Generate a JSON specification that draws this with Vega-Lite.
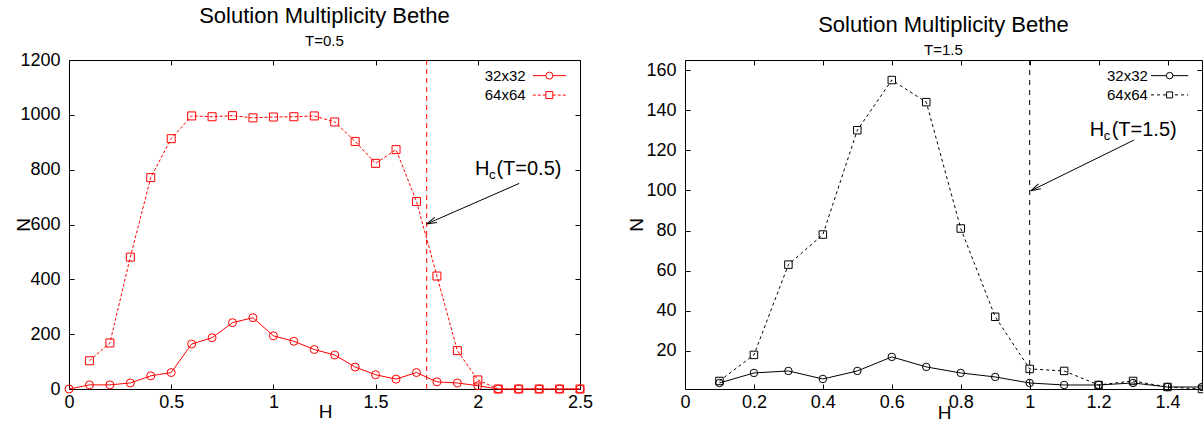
{
  "$schema": "https://vega.github.io/schema/vega-lite/v6.json",
  "padding": {"left": 13, "top": 4, "right": 0, "bottom": 0},
  "spacing": 32,
  "datasets": {
    "left": [
      {"H": 0.0, "N": 0, "size": "32x32"},
      {"H": 0.1, "N": 15, "size": "32x32"},
      {"H": 0.2, "N": 15, "size": "32x32"},
      {"H": 0.3, "N": 22, "size": "32x32"},
      {"H": 0.4, "N": 48, "size": "32x32"},
      {"H": 0.5, "N": 60, "size": "32x32"},
      {"H": 0.6, "N": 164, "size": "32x32"},
      {"H": 0.7, "N": 187, "size": "32x32"},
      {"H": 0.8, "N": 242, "size": "32x32"},
      {"H": 0.9, "N": 260, "size": "32x32"},
      {"H": 1.0, "N": 194, "size": "32x32"},
      {"H": 1.1, "N": 174, "size": "32x32"},
      {"H": 1.2, "N": 144, "size": "32x32"},
      {"H": 1.3, "N": 124, "size": "32x32"},
      {"H": 1.4, "N": 80, "size": "32x32"},
      {"H": 1.5, "N": 52, "size": "32x32"},
      {"H": 1.6, "N": 36, "size": "32x32"},
      {"H": 1.7, "N": 60, "size": "32x32"},
      {"H": 1.8, "N": 26, "size": "32x32"},
      {"H": 1.9, "N": 22, "size": "32x32"},
      {"H": 2.0, "N": 12, "size": "32x32"},
      {"H": 2.1, "N": 0, "size": "32x32"},
      {"H": 2.2, "N": 0, "size": "32x32"},
      {"H": 2.3, "N": 0, "size": "32x32"},
      {"H": 2.4, "N": 0, "size": "32x32"},
      {"H": 2.5, "N": 0, "size": "32x32"},
      {"H": 0.1, "N": 103, "size": "64x64"},
      {"H": 0.2, "N": 168, "size": "64x64"},
      {"H": 0.3, "N": 481, "size": "64x64"},
      {"H": 0.4, "N": 771, "size": "64x64"},
      {"H": 0.5, "N": 913, "size": "64x64"},
      {"H": 0.6, "N": 996, "size": "64x64"},
      {"H": 0.7, "N": 993, "size": "64x64"},
      {"H": 0.8, "N": 997, "size": "64x64"},
      {"H": 0.9, "N": 989, "size": "64x64"},
      {"H": 1.0, "N": 992, "size": "64x64"},
      {"H": 1.1, "N": 993, "size": "64x64"},
      {"H": 1.2, "N": 996, "size": "64x64"},
      {"H": 1.3, "N": 974, "size": "64x64"},
      {"H": 1.4, "N": 903, "size": "64x64"},
      {"H": 1.5, "N": 823, "size": "64x64"},
      {"H": 1.6, "N": 873, "size": "64x64"},
      {"H": 1.7, "N": 684, "size": "64x64"},
      {"H": 1.8, "N": 412, "size": "64x64"},
      {"H": 1.9, "N": 140, "size": "64x64"},
      {"H": 2.0, "N": 33, "size": "64x64"},
      {"H": 2.1, "N": 0, "size": "64x64"},
      {"H": 2.2, "N": 0, "size": "64x64"},
      {"H": 2.3, "N": 0, "size": "64x64"},
      {"H": 2.4, "N": 0, "size": "64x64"},
      {"H": 2.5, "N": 0, "size": "64x64"}
    ],
    "right": [
      {"H": 0.1, "N": 4, "size": "32x32"},
      {"H": 0.2, "N": 9, "size": "32x32"},
      {"H": 0.3, "N": 10, "size": "32x32"},
      {"H": 0.4, "N": 6, "size": "32x32"},
      {"H": 0.5, "N": 10, "size": "32x32"},
      {"H": 0.6, "N": 17, "size": "32x32"},
      {"H": 0.7, "N": 12, "size": "32x32"},
      {"H": 0.8, "N": 9, "size": "32x32"},
      {"H": 0.9, "N": 7, "size": "32x32"},
      {"H": 1.0, "N": 4, "size": "32x32"},
      {"H": 1.1, "N": 3, "size": "32x32"},
      {"H": 1.2, "N": 3, "size": "32x32"},
      {"H": 1.3, "N": 4, "size": "32x32"},
      {"H": 1.4, "N": 2, "size": "32x32"},
      {"H": 1.5, "N": 2, "size": "32x32"},
      {"H": 0.1, "N": 5, "size": "64x64"},
      {"H": 0.2, "N": 18, "size": "64x64"},
      {"H": 0.3, "N": 63, "size": "64x64"},
      {"H": 0.4, "N": 78, "size": "64x64"},
      {"H": 0.5, "N": 130, "size": "64x64"},
      {"H": 0.6, "N": 155, "size": "64x64"},
      {"H": 0.7, "N": 144, "size": "64x64"},
      {"H": 0.8, "N": 81, "size": "64x64"},
      {"H": 0.9, "N": 37, "size": "64x64"},
      {"H": 1.0, "N": 11, "size": "64x64"},
      {"H": 1.1, "N": 10, "size": "64x64"},
      {"H": 1.2, "N": 3, "size": "64x64"},
      {"H": 1.3, "N": 5, "size": "64x64"},
      {"H": 1.4, "N": 2, "size": "64x64"},
      {"H": 1.5, "N": 1, "size": "64x64"}
    ]
  },
  "hconcat": [
    {
      "width": 511,
      "height": 329,
      "title": {"text": "Solution Multiplicity Bethe", "subtitle": "T=0.5"},
      "data": {"name": "left"},
      "layer": [
        {
          "layer": [
            {
              "data": {"values": [{}]},
              "mark": {"type": "rule", "color": "red", "strokeDash": [5, 4], "strokeWidth": 1},
              "encoding": {"x": {"datum": 1.75, "type": "quantitative"}}
            },
            {
              "transform": [{"filter": {"field": "size", "equal": "32x32"}}],
              "mark": {"type": "line", "color": "red", "strokeWidth": 1},
              "encoding": {
                "x": {"field": "H", "type": "quantitative", "scale": {"domain": [0, 2.5], "nice": false, "zero": false},
                      "axis": {"values": [0, 0.5, 1, 1.5, 2, 2.5], "format": "~g", "title": "H", "titleX": 256, "titleY": 22, "ticks": false, "tickSize": 0}},
                "y": {"field": "N", "type": "quantitative", "scale": {"domain": [0, 1200], "nice": false},
                      "axis": {"values": [0, 200, 400, 600, 800, 1000, 1200], "format": "d", "title": "N", "titleX": -46, "ticks": false, "tickSize": 0}}
              }
            },
            {
              "transform": [{"filter": {"field": "size", "equal": "64x64"}}],
              "mark": {"type": "line", "color": "red", "strokeWidth": 1, "strokeDash": [3, 2]},
              "encoding": {
                "x": {"field": "H", "type": "quantitative"},
                "y": {"field": "N", "type": "quantitative"}
              }
            },
            {
              "mark": {"type": "point", "color": "red", "filled": false, "size": 64, "strokeWidth": 1, "opacity": 1},
              "encoding": {
                "x": {"field": "H", "type": "quantitative"},
                "y": {"field": "N", "type": "quantitative"},
                "shape": {"field": "size", "type": "nominal", "scale": {"domain": ["32x32", "64x64"], "range": ["circle", "square"]}, "legend": null}
              }
            },
            {
              "data": {"values": [{}]},
              "mark": {"type": "text", "text": "32x32", "align": "right", "baseline": "middle", "fontSize": 15, "color": "black"},
              "encoding": {"x": {"datum": 2.234, "type": "quantitative"}, "y": {"datum": 1143, "type": "quantitative"}}
            },
            {
              "data": {"values": [{}]},
              "mark": {"type": "text", "text": "64x64", "align": "right", "baseline": "middle", "fontSize": 15, "color": "black"},
              "encoding": {"x": {"datum": 2.234, "type": "quantitative"}, "y": {"datum": 1072, "type": "quantitative"}}
            },
            {
              "data": {"values": [{}]},
              "mark": {"type": "rule", "color": "red", "strokeWidth": 1},
              "encoding": {"x": {"datum": 2.269, "type": "quantitative"}, "x2": {"datum": 2.432}, "y": {"datum": 1143, "type": "quantitative"}}
            },
            {
              "data": {"values": [{}]},
              "mark": {"type": "rule", "color": "red", "strokeWidth": 1, "strokeDash": [3, 2]},
              "encoding": {"x": {"datum": 2.269, "type": "quantitative"}, "x2": {"datum": 2.432}, "y": {"datum": 1072, "type": "quantitative"}}
            },
            {
              "data": {"values": [{}]},
              "mark": {"type": "point", "shape": "circle", "filled": false, "fill": "white", "color": "red", "size": 49, "strokeWidth": 1, "opacity": 1},
              "encoding": {"x": {"datum": 2.35, "type": "quantitative"}, "y": {"datum": 1143, "type": "quantitative"}}
            },
            {
              "data": {"values": [{}]},
              "mark": {"type": "point", "shape": "square", "filled": false, "fill": "white", "color": "red", "size": 49, "strokeWidth": 1, "opacity": 1},
              "encoding": {"x": {"datum": 2.35, "type": "quantitative"}, "y": {"datum": 1072, "type": "quantitative"}}
            },
            {
              "data": {"values": [{}]},
              "mark": {"type": "rule", "color": "black", "strokeWidth": 1},
              "encoding": {
                "x": {"datum": 2.203, "type": "quantitative"}, "y": {"datum": 750, "type": "quantitative"},
                "x2": {"datum": 1.75}, "y2": {"datum": 602}
              }
            },
            {
              "data": {"values": [{}]},
              "mark": {"type": "point", "shape": "M0,0L-1,-0.27M0,0L-1,0.27", "angle": 156.4, "size": 400, "filled": false, "color": "black", "strokeWidth": 1, "opacity": 1},
              "encoding": {"x": {"datum": 1.75, "type": "quantitative"}, "y": {"datum": 602, "type": "quantitative"}}
            },
            {
              "data": {"values": [{}]},
              "mark": {"type": "text", "text": "H", "align": "left", "baseline": "alphabetic", "fontSize": 20, "color": "black"},
              "encoding": {"x": {"datum": 1.986, "type": "quantitative"}, "y": {"datum": 782, "type": "quantitative"}}
            },
            {
              "data": {"values": [{}]},
              "mark": {"type": "text", "text": "c", "align": "left", "baseline": "alphabetic", "fontSize": 13, "dx": 14, "dy": 4, "color": "black"},
              "encoding": {"x": {"datum": 1.986, "type": "quantitative"}, "y": {"datum": 782, "type": "quantitative"}}
            },
            {
              "data": {"values": [{}]},
              "mark": {"type": "text", "text": "(T=0.5)", "align": "left", "baseline": "alphabetic", "fontSize": 20, "dx": 21.5, "color": "black"},
              "encoding": {"x": {"datum": 1.986, "type": "quantitative"}, "y": {"datum": 782, "type": "quantitative"}}
            }
          ]
        },
        {
          "mark": {"type": "point", "opacity": 0},
          "encoding": {
            "x": {"field": "H", "type": "quantitative", "axis": {"orient": "top", "offset": -329, "labels": false, "title": null, "domain": false, "values": [0, 0.5, 1, 1.5, 2, 2.5]}},
            "y": {"field": "N", "type": "quantitative", "axis": {"orient": "right", "offset": -511, "labels": false, "title": null, "domain": false, "values": [0, 200, 400, 600, 800, 1000, 1200]}}
          }
        },
        {
          "mark": {"type": "point", "opacity": 0},
          "encoding": {
            "x": {"field": "H", "type": "quantitative", "axis": {"orient": "bottom", "offset": -329, "labels": false, "title": null, "domain": false, "values": [0, 0.5, 1, 1.5, 2, 2.5]}},
            "y": {"field": "N", "type": "quantitative", "axis": {"orient": "left", "offset": -511, "labels": false, "title": null, "domain": false, "values": [0, 200, 400, 600, 800, 1000, 1200]}}
          }
        }
      ],
      "resolve": {"axis": {"x": "independent", "y": "independent"}}
    },
    {
      "width": 517,
      "height": 329,
      "title": {"text": "Solution Multiplicity Bethe", "subtitle": "T=1.5"},
      "data": {"name": "right"},
      "layer": [
        {
          "layer": [
            {
              "data": {"values": [{}]},
              "mark": {"type": "rule", "color": "black", "strokeDash": [5, 5], "strokeWidth": 1},
              "encoding": {"x": {"datum": 1.0, "type": "quantitative"}}
            },
            {
              "transform": [{"filter": {"field": "size", "equal": "32x32"}}],
              "mark": {"type": "line", "color": "black", "strokeWidth": 1},
              "encoding": {
                "x": {"field": "H", "type": "quantitative", "scale": {"domain": [0, 1.5], "nice": false, "zero": false},
                      "axis": {"values": [0, 0.2, 0.4, 0.6, 0.8, 1, 1.2, 1.4], "format": "~g", "title": "H", "titleX": 259, "titleY": 23, "ticks": false, "tickSize": 0}},
                "y": {"field": "N", "type": "quantitative", "scale": {"domain": [1, 165], "nice": false, "zero": false},
                      "axis": {"values": [20, 40, 60, 80, 100, 120, 140, 160], "format": "d", "title": "N", "titleX": -49, "ticks": false, "tickSize": 0}}
              }
            },
            {
              "transform": [{"filter": {"field": "size", "equal": "64x64"}}],
              "mark": {"type": "line", "color": "black", "strokeWidth": 1, "strokeDash": [3, 3]},
              "encoding": {
                "x": {"field": "H", "type": "quantitative"},
                "y": {"field": "N", "type": "quantitative"}
              }
            },
            {
              "mark": {"type": "point", "color": "black", "filled": false, "size": 56, "strokeWidth": 1, "opacity": 1},
              "encoding": {
                "x": {"field": "H", "type": "quantitative"},
                "y": {"field": "N", "type": "quantitative"},
                "shape": {"field": "size", "type": "nominal", "scale": {"domain": ["32x32", "64x64"], "range": ["circle", "square"]}, "legend": null}
              }
            },
            {
              "data": {"values": [{}]},
              "mark": {"type": "text", "text": "32x32", "align": "right", "baseline": "middle", "fontSize": 15, "color": "black"},
              "encoding": {"x": {"datum": 1.343, "type": "quantitative"}, "y": {"datum": 157.2, "type": "quantitative"}}
            },
            {
              "data": {"values": [{}]},
              "mark": {"type": "text", "text": "64x64", "align": "right", "baseline": "middle", "fontSize": 15, "color": "black"},
              "encoding": {"x": {"datum": 1.343, "type": "quantitative"}, "y": {"datum": 147.6, "type": "quantitative"}}
            },
            {
              "data": {"values": [{}]},
              "mark": {"type": "rule", "color": "black", "strokeWidth": 1},
              "encoding": {"x": {"datum": 1.352, "type": "quantitative"}, "x2": {"datum": 1.46}, "y": {"datum": 157.2, "type": "quantitative"}}
            },
            {
              "data": {"values": [{}]},
              "mark": {"type": "rule", "color": "black", "strokeWidth": 1, "strokeDash": [3, 3]},
              "encoding": {"x": {"datum": 1.352, "type": "quantitative"}, "x2": {"datum": 1.46}, "y": {"datum": 147.6, "type": "quantitative"}}
            },
            {
              "data": {"values": [{}]},
              "mark": {"type": "point", "shape": "circle", "filled": false, "fill": "white", "color": "black", "size": 42, "strokeWidth": 1, "opacity": 1},
              "encoding": {"x": {"datum": 1.406, "type": "quantitative"}, "y": {"datum": 157.2, "type": "quantitative"}}
            },
            {
              "data": {"values": [{}]},
              "mark": {"type": "point", "shape": "square", "filled": false, "fill": "white", "color": "black", "size": 36, "strokeWidth": 1, "opacity": 1},
              "encoding": {"x": {"datum": 1.406, "type": "quantitative"}, "y": {"datum": 147.6, "type": "quantitative"}}
            },
            {
              "data": {"values": [{}]},
              "mark": {"type": "rule", "color": "black", "strokeWidth": 1},
              "encoding": {
                "x": {"datum": 1.303, "type": "quantitative"}, "y": {"datum": 125.1, "type": "quantitative"},
                "x2": {"datum": 1.003}, "y2": {"datum": 99.8}
              }
            },
            {
              "data": {"values": [{}]},
              "mark": {"type": "point", "shape": "M0,0L-1,-0.27M0,0L-1,0.27", "angle": 153.9, "size": 400, "filled": false, "color": "black", "strokeWidth": 1, "opacity": 1},
              "encoding": {"x": {"datum": 1.003, "type": "quantitative"}, "y": {"datum": 99.8, "type": "quantitative"}}
            },
            {
              "data": {"values": [{}]},
              "mark": {"type": "text", "text": "H", "align": "left", "baseline": "alphabetic", "fontSize": 20, "color": "black"},
              "encoding": {"x": {"datum": 1.174, "type": "quantitative"}, "y": {"datum": 127, "type": "quantitative"}}
            },
            {
              "data": {"values": [{}]},
              "mark": {"type": "text", "text": "c", "align": "left", "baseline": "alphabetic", "fontSize": 13, "dx": 14, "dy": 4, "color": "black"},
              "encoding": {"x": {"datum": 1.174, "type": "quantitative"}, "y": {"datum": 127, "type": "quantitative"}}
            },
            {
              "data": {"values": [{}]},
              "mark": {"type": "text", "text": "(T=1.5)", "align": "left", "baseline": "alphabetic", "fontSize": 20, "dx": 22, "color": "black"},
              "encoding": {"x": {"datum": 1.174, "type": "quantitative"}, "y": {"datum": 127, "type": "quantitative"}}
            }
          ]
        },
        {
          "mark": {"type": "point", "opacity": 0},
          "encoding": {
            "x": {"field": "H", "type": "quantitative", "axis": {"orient": "top", "offset": -329, "labels": false, "title": null, "domain": false, "values": [0, 0.2, 0.4, 0.6, 0.8, 1, 1.2, 1.4]}},
            "y": {"field": "N", "type": "quantitative", "axis": {"orient": "right", "offset": -517, "labels": false, "title": null, "domain": false, "values": [20, 40, 60, 80, 100, 120, 140, 160]}}
          }
        },
        {
          "mark": {"type": "point", "opacity": 0},
          "encoding": {
            "x": {"field": "H", "type": "quantitative", "axis": {"orient": "bottom", "offset": -329, "labels": false, "title": null, "domain": false, "values": [0, 0.2, 0.4, 0.6, 0.8, 1, 1.2, 1.4]}},
            "y": {"field": "N", "type": "quantitative", "axis": {"orient": "left", "offset": -517, "labels": false, "title": null, "domain": false, "values": [20, 40, 60, 80, 100, 120, 140, 160]}}
          }
        }
      ],
      "resolve": {"axis": {"x": "independent", "y": "independent"}}
    }
  ],
  "config": {
    "font": "Liberation Sans",
    "background": "white",
    "view": {"stroke": "black", "strokeWidth": 1},
    "axis": {
      "grid": false,
      "domain": false,
      "tickColor": "black",
      "tickSize": 5,
      "tickWidth": 1,
      "labelFlush": false,
      "labelFont": "Liberation Sans",
      "labelFontSize": 18,
      "labelColor": "black",
      "titleFont": "Liberation Sans",
      "titleFontSize": 19,
      "titleFontWeight": "normal",
      "titleColor": "black"
    },
    "axisX": {"labelPadding": 4, "labelFlush": false, "titleBaseline": "middle", "titleAlign": "center"},
    "axisY": {"labelPadding": 9, "labelFlush": false, "titleBaseline": "middle", "titleAlign": "center"},
    "title": {
      "font": "Liberation Sans",
      "fontSize": 22,
      "fontWeight": "normal",
      "color": "black",
      "subtitleFont": "Liberation Sans",
      "subtitleFontSize": 15,
      "subtitleColor": "black",
      "subtitlePadding": 6,
      "offset": 1
    }
  }
}
